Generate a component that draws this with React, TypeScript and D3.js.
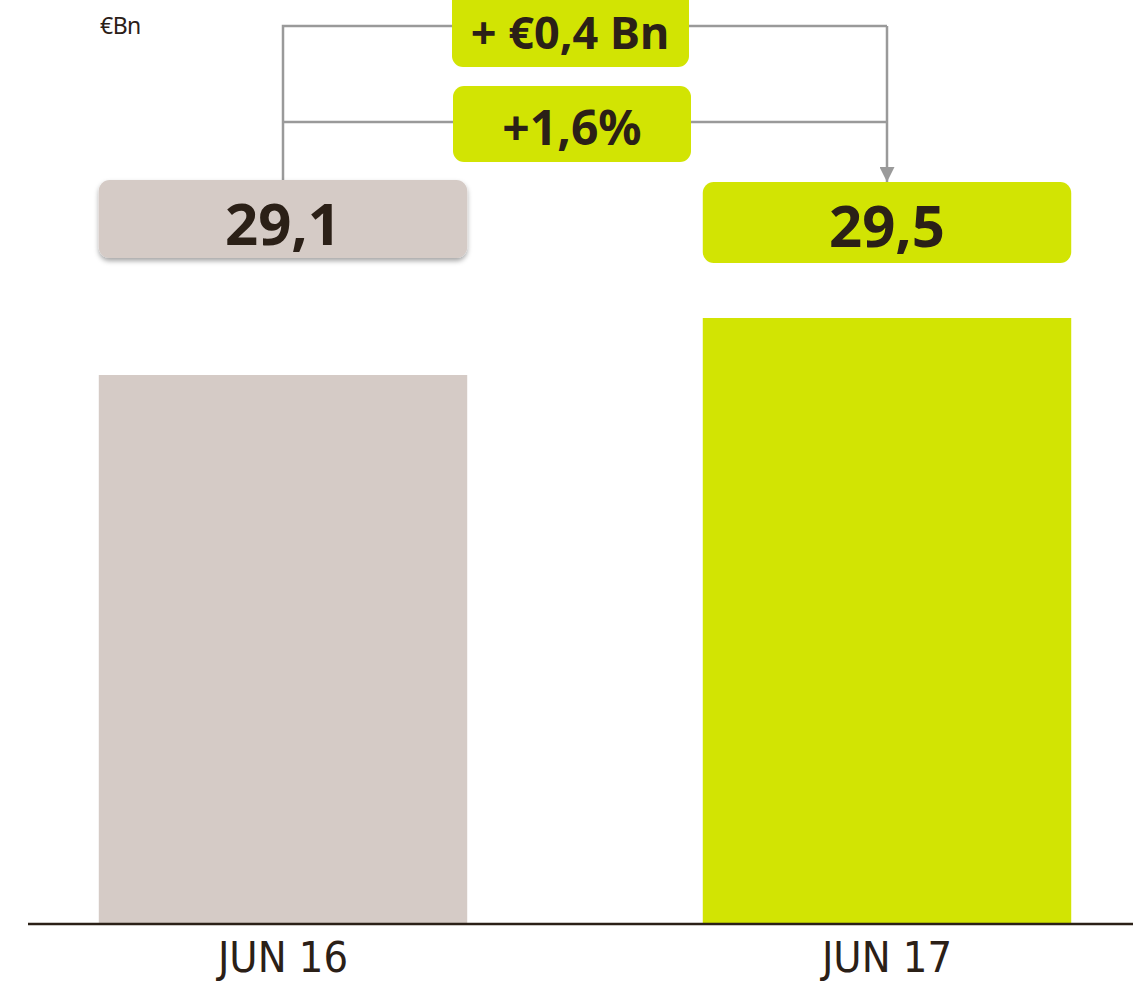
import React from 'react';
import * as d3 from 'd3';

const categories = ['JUN 16', 'JUN 17'];
const values = [29.1, 29.5];
const valueLabels = ['29,1', '29,5'];
const deltaLabels = ['+ €0,4 Bn', '+1,6%'];
const unitLabel = '€Bn';

const W = 1145;
const H = 982;
const baseY = 923;

const colors = ['#d5cbc6', '#d2e403'];
const dark = '#2b2017';
const connector = '#9a9a9a';

export default function App() {
  const x = d3.scaleBand<string>()
    .domain(categories)
    .range([-19, 1189])
    .paddingInner(0.39)
    .paddingOuter(0.195);

  // truncated value axis, as in the original
  const y = d3.scaleLinear().domain([25.254, 29.5]).range([baseY, 318]);

  const bw = x.bandwidth();
  const cx = categories.map((c) => (x(c) as number) + bw / 2);

  const font = '"Noto Sans", "Open Sans", sans-serif';

  return (
    <svg width={W} height={H} style={{ position: 'absolute', left: 0, top: 0 }}>
      <defs>
        <filter id="shadow" x="-10%" y="-20%" width="120%" height="160%">
          <feDropShadow dx="0" dy="3" stdDeviation="2.5" floodColor="#000" floodOpacity="0.35" />
        </filter>
        <marker id="arrow" viewBox="0 0 10 10" refX="10" refY="5" markerWidth="17" markerHeight="15" markerUnits="userSpaceOnUse" orient="auto">
          <path d="M0,0 L10,5 L0,10 Z" fill={connector} />
        </marker>
      </defs>

      <text x={100} y={34} fontFamily={font} fontSize={23} fill={dark} letterSpacing={-0.5}>{unitLabel}</text>

      {/* bars */}
      {categories.map((c, i) => (
        <rect key={c} x={x(c)} y={y(values[i])} width={bw} height={baseY - y(values[i])} fill={colors[i]} />
      ))}

      {/* baseline */}
      <line x1={28} x2={1133} y1={baseY + 1} y2={baseY + 1} stroke={dark} strokeWidth={2.5} />

      {/* category labels */}
      {categories.map((c, i) => (
        <text key={c} x={cx[i]} y={972} textAnchor="middle"
          fontFamily='"DejaVu Sans Condensed", "Liberation Sans Narrow", sans-serif'
          fontWeight={300} fontSize={43} fill={dark} style={{ fontStretch: 'condensed' }}>{c}</text>
      ))}

      {/* connectors */}
      <g stroke={connector} strokeWidth={2.5} fill="none">
        <path d={`M${cx[0]},180 V26 H${cx[1]}`} />
        <path d={`M${cx[0]},122 H${cx[1]}`} />
        <path d={`M${cx[1]},26 V182`} markerEnd="url(#arrow)" />
      </g>

      {/* value label boxes */}
      {categories.map((c, i) => {
        const top = i === 0 ? 180 : 182;
        const h = i === 0 ? 78 : 81;
        return (
          <g key={c}>
            <rect x={x(c)} y={top} width={bw} height={h} rx={11} fill={colors[i]}
              filter={i === 0 ? 'url(#shadow)' : undefined} />
            <text x={cx[i]} y={top + 65} textAnchor="middle" fontFamily={font}
              fontWeight={700} fontSize={58} fill={dark}>{valueLabels[i]}</text>
          </g>
        );
      })}

      {/* delta boxes */}
      <rect x={452} y={-12} width={237} height={79} rx={11} fill={colors[1]} />
      <text x={570} y={49} textAnchor="middle" fontFamily={font} fontWeight={700} fontSize={45} fill={dark}>{deltaLabels[0]}</text>
      <rect x={453} y={86} width={238} height={76} rx={11} fill={colors[1]} />
      <text x={572} y={145} textAnchor="middle" fontFamily={font} fontWeight={700} fontSize={48} fill={dark}>{deltaLabels[1]}</text>
    </svg>
  );
}
